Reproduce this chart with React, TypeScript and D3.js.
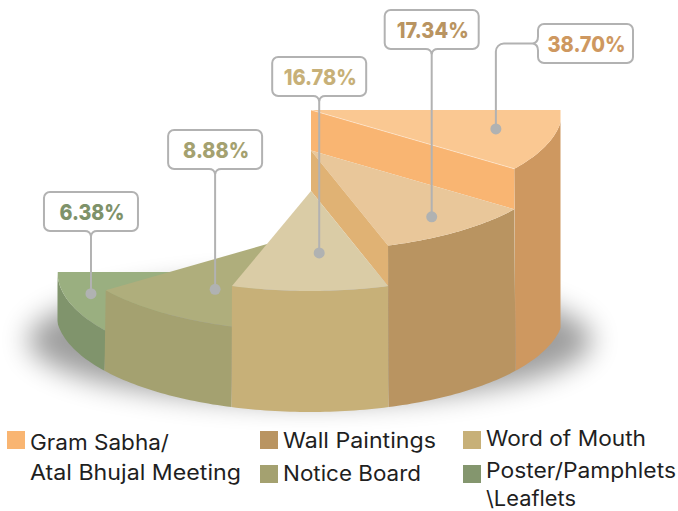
import * as d3 from "d3";

const categories = ["Gram Sabha", "Wall Paintings", "Word of Mouth", "Notice Board", "Poster"];
const valueLabels = ["38.70%", "17.34%", "16.78%", "8.88%", "6.38%"];

const topColors = ["#FAC892", "#E9C79A", "#DACCA6", "#AFAE7C", "#9AAF80"];
const sideColors = ["#CE9860", "#B99461", "#C7B078", "#A4A170", "#80946C"];
const cutColors = ["#F9B572", "#E0B274"];
const textColors = ["#CE9860", "#B99461", "#C7B078", "#A4A170", "#7E926A"];
const swatchColors = ["#F9B572", "#B99461", "#C7B078", "#A4A170", "#84966E"];

// where the callouts sit: dot on the slice top, box above it
const dotAngle = [104.4, 144, 177, 213, 256];
const dotRadial = [0.76, 0.82, 0.62, 0.69, 0.894];
const boxTop = [24, 10, 57, 130, 192];
const textWidths = [78, 72, 73, 66, 65];

const legendColumns = [7, 260, 463];
const legendRows = [431, 465];
const legendItems = [
  { col: 0, row: 0, color: 0, lines: [{ text: "Gram Sabha/", w: 139, y: 450 }, { text: "Atal Bhujal Meeting", w: 211, y: 480 }] },
  { col: 1, row: 0, color: 1, lines: [{ text: "Wall Paintings", w: 153, y: 448 }] },
  { col: 2, row: 0, color: 2, lines: [{ text: "Word of Mouth", w: 160, y: 446 }] },
  { col: 1, row: 1, color: 3, lines: [{ text: "Notice Board", w: 138, y: 481 }] },
  { col: 2, row: 1, color: 4, lines: [{ text: "Poster/Pamphlets", w: 190, y: 478 }, { text: "\\Leaflets", w: 90, y: 505.5 }] },
];

const width = 678;
const height = 511;
const cx = 310;
const apexX = 311;
const rx = 252.5;
const ry = 100;
const baseY = 312;
const baseRx = 254;
const clipLeft = 57.5;
const clipRight = 560.5;
const boxW = 94;
const boxH = 39;
const font = "Inter, 'Open Sans', sans-serif";

// the picture gives all five slices the same sweep, so the pie is over equal weights
const slices = d3
  .pie<string>()
  .value(() => 1)
  .sort(null)
  .startAngle(Math.PI / 2)
  .endAngle((3 * Math.PI) / 2)(categories);

const stepY = d3.scalePoint<string>().domain(categories).range([110, 272]);

const rim = (a: number, y: number, r = rx): [number, number] => [cx + r * Math.sin(a), y - ry * Math.cos(a)];

const arcPoints = (a0: number, a1: number, y: number, r = rx) =>
  d3.range(0, 33).map((i) => rim(a0 + ((a1 - a0) * i) / 32, y, r));

const line = d3.line();
const closed = (pts: [number, number][]) => line(pts) + "Z";

function calloutBelow(x: number, top: number) {
  const left = x - boxW / 2;
  const right = x + boxW / 2;
  const b = top + boxH;
  const p = d3.path();
  p.moveTo(x, b + 5);
  p.quadraticCurveTo(x + 1, b, x + 6, b);
  p.arcTo(right, b, right, top, 6);
  p.arcTo(right, top, left, top, 6);
  p.arcTo(left, top, left, b, 6);
  p.arcTo(left, b, x - 6, b, 6);
  p.lineTo(x - 6, b);
  p.quadraticCurveTo(x - 1, b, x, b + 5);
  return p.toString();
}

function calloutLeft(left: number, top: number, dot: [number, number]) {
  const right = left + boxW + 1;
  const b = top + boxH;
  const my = top + boxH / 2;
  const p = d3.path();
  p.moveTo(left - 5, my);
  p.quadraticCurveTo(left, my - 1, left, my - 7);
  p.arcTo(left, top, right, top, 6);
  p.arcTo(right, top, right, b, 6);
  p.arcTo(right, b, left, b, 6);
  p.arcTo(left, b, left, my + 7, 6);
  p.lineTo(left, my + 7);
  p.quadraticCurveTo(left, my + 1, left - 5, my);
  const leader = d3.path();
  leader.moveTo(left - 5, my);
  leader.arcTo(dot[0], my, dot[0], dot[1], 8);
  leader.lineTo(dot[0], dot[1]);
  return { box: p.toString(), leader: leader.toString() };
}

export default function App() {
  const tops = slices.map((s) => stepY(s.data) as number);
  const drawOrder = [0, 1, 4, 3, 2];

  return (
    <svg
      width={width}
      height={height}
      viewBox={`0 0 ${width} ${height}`}
      style={{ position: "absolute", left: 0, top: 0, background: "#fff" }}
    >
      <defs>
        <filter id="blur" x="-20%" y="-50%" width="140%" height="200%">
          <feGaussianBlur stdDeviation="14" />
        </filter>
        <clipPath id="pieClip">
          <rect x={clipLeft} y={0} width={clipRight - clipLeft} height={height} />
        </clipPath>
      </defs>

      <ellipse cx={cx} cy={340} rx={282} ry={62} fill="#000" opacity={0.38} filter="url(#blur)" />

      <g clipPath="url(#pieClip)">
        {drawOrder.map((i) => {
          const s = slices[i];
          const y = tops[i];
          const next = tops[i + 1];
          const a0 = s.startAngle;
          const a1 = s.endAngle;
          const edge = rim(a1, y);
          const side = [...arcPoints(a0, a1, y), ...arcPoints(a1, a0, baseY, baseRx)];
          const top: [number, number][] = [[apexX, y], ...arcPoints(a0, a1, y)];
          return (
            <g key={s.data}>
              <path d={closed(side)} fill={sideColors[i]} />
              <path d={closed(top)} fill={topColors[i]} />
              {i < 2 && (
                <path
                  d={closed([[apexX, y], edge, rim(a1, next), [apexX, next]])}
                  fill={cutColors[i]}
                />
              )}
            </g>
          );
        })}
      </g>
      <path
        d={line([[apexX, tops[0]], rim(slices[0].endAngle, tops[0])]) as string}
        stroke="#fff"
        strokeOpacity={0.6}
        strokeWidth={0.7}
      />

      {slices.map((s, i) => {
        const a = (dotAngle[i] * Math.PI) / 180;
        const dot: [number, number] = [
          (i === 2 ? apexX : cx) + rx * dotRadial[i] * Math.sin(a),
          tops[i] - ry * dotRadial[i] * Math.cos(a),
        ];
        const sideBox = i === 0;
        const left = calloutLeft(538, boxTop[i], dot);
        const textX = sideBox ? 538 + boxW / 2 + 0.5 : dot[0];
        return (
          <g key={s.data}>
            <path
              d={sideBox ? left.leader : (line([[dot[0], boxTop[i] + boxH + 4], dot]) as string)}
              fill="none"
              stroke="#B2B2B2"
              strokeWidth={2}
            />
            <path d={sideBox ? left.box : calloutBelow(dot[0], boxTop[i])} fill="#fff" stroke="#B2B2B2" strokeWidth={2} />
            <circle cx={dot[0]} cy={dot[1]} r={5.5} fill="#B0B2B2" />
            <text
              x={textX + 1}
              y={boxTop[i] + 28}
              textAnchor="middle"
              fontFamily={font}
              fontWeight={800}
              fontSize={22}
              textLength={textWidths[i]}
              lengthAdjust="spacingAndGlyphs"
              fill={textColors[i]}
            >
              {valueLabels[i]}
            </text>
          </g>
        );
      })}

      {legendItems.map((item) => (
        <g key={item.lines[0].text}>
          <rect
            x={legendColumns[item.col]}
            y={legendRows[item.row]}
            width={18}
            height={18}
            fill={swatchColors[item.color]}
          />
          {item.lines.map((l) => (
            <text
              key={l.text}
              x={legendColumns[item.col] + 23}
              y={l.y}
              fontFamily={font}
              fontSize={21}
              fill="#1f1f1f"
              textLength={l.w}
              lengthAdjust="spacingAndGlyphs"
            >
              {l.text}
            </text>
          ))}
        </g>
      ))}
    </svg>
  );
}
